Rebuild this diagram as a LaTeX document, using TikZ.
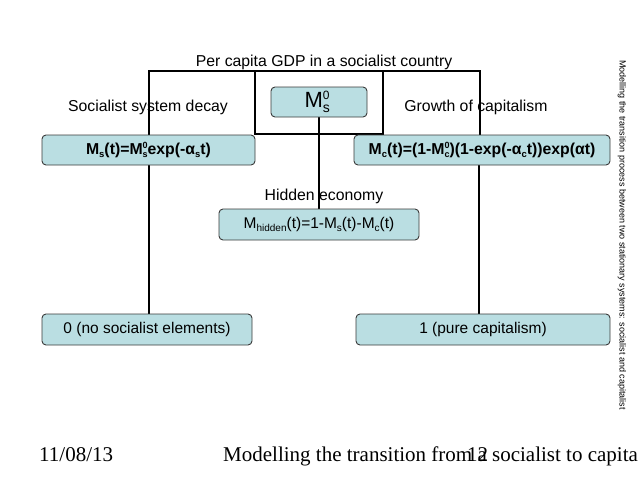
\documentclass[tikz,border=0pt]{standalone}
\usepackage{fontspec}
\setmainfont{Liberation Sans}
\newfontfamily\timesfont{Liberation Serif}
\usetikzlibrary{backgrounds}
\definecolor{boxfill}{HTML}{BADEE2}
\definecolor{boxline}{HTML}{3A3A3A}
% size, raise of sup, lowering of sub, sup, sub
\newcommand\SupSub[5]{\rlap{\raisebox{#2}{\fontsize{#1}{#1}\selectfont #4}}\raisebox{-#3}{\fontsize{#1}{#1}\selectfont #5}}
\newcommand\SubOnly[3]{\raisebox{-#2}{\fontsize{#1}{#1}\selectfont #3}}
\tikzset{
  box/.style={draw=boxline, line width=0.9pt, fill=boxfill, rounded corners=4pt,
    minimum height=30pt, inner sep=0pt, font=\fontsize{15.5}{17}\selectfont},
  fbox/.style={box, font=\bfseries\fontsize{15.8}{17}\selectfont},
  conn/.style={line width=1.8pt, black},
  lbl/.style={font=\fontsize{15.8}{18}\selectfont, inner sep=0pt},
}
\begin{document}
\begin{tikzpicture}[x=1pt,y=-1pt]
\useasboundingbox (0,0) rectangle (638,479);
\clip (0,0) rectangle (638,479);
% boxes
\node[box, minimum width=96pt, font=\fontsize{22}{24}\selectfont] (m0) at (319,102) {M\rlap{\raisebox{7.5pt}{\fontsize{12}{12}\selectfont 0}}\raisebox{-5pt}{\fontsize{14}{14}\selectfont s}\,};
\node[fbox, minimum width=213pt] (ms) at (148.5,150) {M\SubOnly{9.5}{2.5pt}{s}(t)=M\SupSub{9}{6pt}{2.5pt}{0}{s}exp(-α\SubOnly{9.5}{2.5pt}{s}t)};
\node[fbox, minimum width=256pt] (mc) at (482,150) {M\SubOnly{9.5}{2.5pt}{c}(t)=(1-M\SupSub{9}{6pt}{2.5pt}{0}{c})(1-exp(-α\SubOnly{9.5}{2.5pt}{c}t))exp(αt)};
\node[box, minimum width=200pt, minimum height=31pt] (mh) at (319,224.5) {M\SubOnly{10}{3pt}{hidden}(t)=1-M\SubOnly{10}{3pt}{s}(t)-M\SubOnly{10}{3pt}{c}(t)};
\node[box, minimum width=210pt, minimum height=31pt] (zero) at (147,329.5) {0 (no socialist elements)};
\node[box, minimum width=254pt, minimum height=31pt] (one) at (483,329.5) {1 (pure capitalism)};
% labels
\node[lbl] (gdp) at (324,62) {Per capita GDP in a socialist country};
\node[lbl] (decay) at (148,107) {Socialist system decay};
\node[lbl] (growth) at (476,107) {Growth of capitalism};
\node[lbl] (hidden) at (324,196) {Hidden economy};
\node[font=\fontsize{9}{10}\selectfont, rotate=-90, inner sep=0pt] (side) at (622,235) {Modelling the transition process between two stationary systems: socialist and capitalist};
% footer
\node[font=\timesfont\fontsize{21}{24}\selectfont, anchor=base west, inner sep=0pt] (date) at (39,461) {11/08/13};
\node[font=\timesfont\fontsize{21}{24}\selectfont, anchor=base west, inner sep=0pt] (title) at (223,461) {Modelling the transition from a socialist to capitalism};
\node[font=\timesfont\fontsize{21}{24}\selectfont, anchor=base west, inner sep=0pt] (page) at (467,461) {12};
% connectors
\coordinate (tl) at (149,71);
\coordinate (tr) at (480,71);
\coordinate (il) at (255,71);
\coordinate (ir) at (383,71);
\coordinate (ibl) at (255,134);
\coordinate (ibr) at (383,134);
\coordinate (br) at (479,0);
\begin{scope}[on background layer]
\draw[conn] (tl |- ms.north) -- (tl) -- (tr) -- (tr |- mc.north);
\draw[conn] (ibl) -- (il) -- (ir) -- (ibr) -- cycle;
\draw[conn] (m0.south) -- (mh.north);
\draw[conn] (tl |- ms.south) -- (tl |- zero.north);
\draw[conn] (br |- mc.south) -- (br |- one.north);
\end{scope}
\end{tikzpicture}
\end{document}
